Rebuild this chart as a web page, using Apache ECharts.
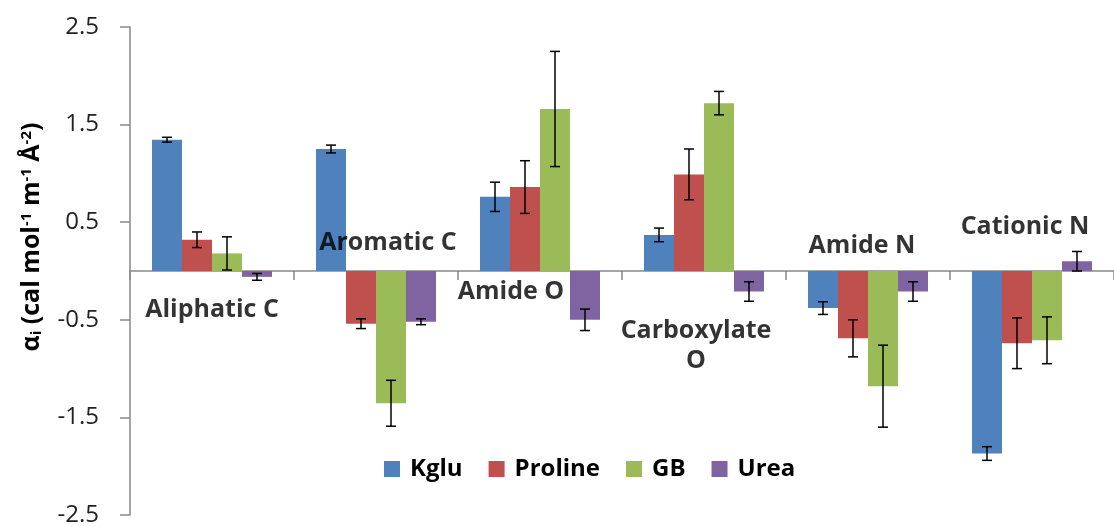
<!DOCTYPE html>
<html>
<head>
<meta charset="utf-8">
<script src="https://cdn.jsdelivr.net/npm/echarts@6/dist/echarts.min.js"></script>
<style>
html,body{margin:0;padding:0;background:#fff;}
#chart{width:1114px;height:527px;}
</style>
</head>
<body>
<div id="chart"></div>
<script>
const categories = ['Aliphatic C', 'Aromatic C', 'Amide O', 'Carboxylate O', 'Amide N', 'Cationic N'];
const seriesNames = ['Kglu', 'Proline', 'GB', 'Urea'];
const kglu = [1.345, 1.25, 0.76, 0.37, -0.38, -1.87];
const kgluErr = [0.025, 0.04, 0.15, 0.07, 0.065, 0.07];
const proline = [0.32, -0.54, 0.86, 0.99, -0.69, -0.74];
const prolineErr = [0.08, 0.05, 0.27, 0.26, 0.19, 0.26];
const gb = [0.18, -1.355, 1.66, 1.72, -1.18, -0.71];
const gbErr = [0.17, 0.235, 0.59, 0.12, 0.42, 0.24];
const urea = [-0.06, -0.52, -0.50, -0.21, -0.21, 0.10];
const ureaErr = [0.035, 0.03, 0.11, 0.10, 0.10, 0.10];
const labelText = ['Aliphatic C', 'Aromatic C', 'Amide O', 'Carboxylate\nO', 'Amide N', 'Cationic N'];
const labelY = [-0.40, 0.29, -0.21, -0.77, 0.26, 0.45];
const yTicks = [-2.5, -1.5, -0.5, 0.5, 1.5, 2.5];

// styles
const colors = ['#4F81BD', '#C0504D', '#9BBB59', '#8064A2'];
const labelOffsetX = [0, 12, -29, -8, -6, -7];
const BAR_W = 30;
const FONT = 'Open Sans';

const values = [kglu, proline, gb, urea];
const errs = [kgluErr, prolineErr, gbErr, ureaErr];

const chart = echarts.init(document.getElementById('chart'));

const series = [];
seriesNames.forEach((name, i) => {
  series.push({
    name: name,
    type: 'bar',
    data: values[i],
    barWidth: BAR_W,
    barGap: '0%',
    itemStyle: { color: colors[i] },
    z: 2
  });
});
seriesNames.forEach((name, i) => {
  series.push({
    type: 'custom',
    name: name + ' err',
    z: 5,
    silent: true,
    data: values[i].map((v, k) => [k, v, errs[i][k]]),
    renderItem: function (params, api) {
      const c = api.value(0), v = api.value(1), e = api.value(2);
      const hi = api.coord([c, v + e]);
      const lo = api.coord([c, v - e]);
      const x = hi[0] + (i - 1.5) * BAR_W;
      const cap = 5;
      const st = { stroke: '#000', lineWidth: 1.5 };
      return {
        type: 'group',
        children: [
          { type: 'line', shape: { x1: x, y1: hi[1], x2: x, y2: lo[1] }, style: st },
          { type: 'line', shape: { x1: x - cap, y1: hi[1], x2: x + cap, y2: hi[1] }, style: st },
          { type: 'line', shape: { x1: x - cap, y1: lo[1], x2: x + cap, y2: lo[1] }, style: st }
        ]
      };
    }
  });
});
series.push({
  type: 'scatter',
  name: 'labels',
  symbolSize: 1,
  itemStyle: { color: 'rgba(0,0,0,0)' },
  silent: true,
  z: 10,
  data: categories.map((c, k) => ({
    value: [k, labelY[k]],
    label: {
      show: true,
      position: 'inside',
      offset: [labelOffsetX[k], 0],
      formatter: labelText[k],
      fontFamily: FONT,
      fontWeight: 'bold',
      fontSize: 25,
      lineHeight: 30,
      color: '#000',
      align: 'center'
    }
  }))
});

const option = {
  animation: false,
  backgroundColor: '#fff',
  grid: { left: 130, right: -9, top: 27, bottom: 11, containLabel: false },
  legend: {
    data: seriesNames,
    left: 384,
    top: 457,
    padding: 0,
    icon: 'rect',
    itemWidth: 16,
    itemHeight: 16,
    itemGap: 26,
    textStyle: { fontFamily: FONT, fontWeight: 'bold', fontSize: 24, color: '#000', padding: [0, 0, 0, 5] }
  },
  xAxis: {
    type: 'category',
    data: categories,
    axisLine: { onZero: true, lineStyle: { color: '#898989', width: 1.5 } },
    axisTick: { show: true, length: 9, lineStyle: { color: '#898989', width: 1.5 } },
    axisLabel: { show: false },
    splitLine: { show: false }
  },
  yAxis: {
    type: 'value',
    min: yTicks[0],
    max: yTicks[yTicks.length - 1],
    interval: 1,
    name: '{b|α}{sub|i}{b| (cal mol}{sup|-1}{b| m}{sup|-1}{b| Å}{sup|-2}{b|)}',
    nameLocation: 'middle',
    nameRotate: 90,
    nameGap: 86,
    nameTextStyle: {
      color: '#000',
      padding: [0, 0, 0, 68],
      rich: {
        b: { fontFamily: FONT, fontWeight: 'bold', fontSize: 25, color: '#000' },
        sup: { fontFamily: FONT, fontWeight: 'bold', fontSize: 15, verticalAlign: 'top', color: '#000' },
        sub: { fontFamily: FONT, fontWeight: 'bold', fontSize: 15, verticalAlign: 'bottom', color: '#000' }
      }
    },
    axisLine: { show: true, lineStyle: { color: '#898989', width: 1.5 } },
    axisTick: { show: true, length: 10, lineStyle: { color: '#898989', width: 1.5 } },
    axisLabel: { fontFamily: FONT, fontSize: 24, color: '#222', margin: 31 },
    splitLine: { show: false }
  },
  series: series
};
chart.setOption(option);
</script>
</body>
</html>
